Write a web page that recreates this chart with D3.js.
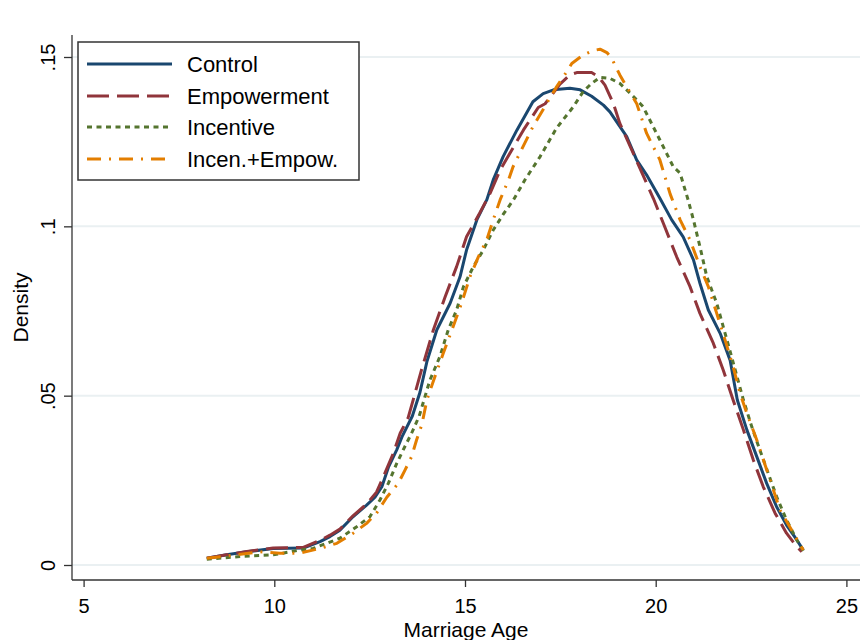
<!DOCTYPE html>
<html>
<head>
<meta charset="utf-8">
<script src="https://cdn.jsdelivr.net/npm/d3@7"></script>
<style>
  html, body { margin: 0; padding: 0; background: #fff; }
  svg { display: block; font-family: "Liberation Sans", Arial, sans-serif; }
</style>
</head>
<body>
<svg id="chart" width="867" height="640"></svg>
<script>
// ---- Data ----
const seriesNames = ["Control", "Empowerment", "Incentive", "Incen.+Empow."];
const xTicks = [5, 10, 15, 20, 25];
const xTickLabels = ["5", "10", "15", "20", "25"];
const yTicks = [0, 0.05, 0.1, 0.15];
const yTickLabels = ["0", ".05", ".1", ".15"];

const control = [
  [8.23,0.0020],[8.75,0.0030],[9.28,0.0039],[9.97,0.0049],[10.76,0.0050],[11.20,0.0069],
  [11.46,0.0084],[11.72,0.0103],[12.07,0.0143],[12.42,0.0177],[12.64,0.0200],[12.82,0.0231],
  [12.99,0.0288],[13.21,0.0340],[13.35,0.0379],[13.62,0.0440],[13.82,0.0510],[14.00,0.0600],
  [14.26,0.0694],[14.61,0.0773],[14.87,0.0851],[15.04,0.0930],[15.31,0.1019],[15.57,0.1078],
  [15.74,0.1137],[16.00,0.1206],[16.36,0.1284],[16.78,0.1368],[17.05,0.1392],[17.32,0.1403],
  [17.75,0.1408],[18.02,0.1403],[18.32,0.1384],[18.63,0.1358],[18.80,0.1338],[19.24,0.1265],
  [19.50,0.1196],[19.76,0.1152],[20.11,0.1083],[20.42,0.1019],[20.72,0.0969],[20.99,0.0901],
  [21.16,0.0832],[21.38,0.0753],[21.69,0.0684],[21.95,0.0605],[22.14,0.0487],[22.39,0.0399],
  [22.65,0.0320],[22.91,0.0241],[23.17,0.0172],[23.43,0.0118],[23.70,0.0074],[23.87,0.0044]
];

const empowerment = [
  [8.23,0.0020],[8.75,0.0030],[9.28,0.0040],[9.97,0.0050],[10.76,0.0052],[11.20,0.0073],
  [11.46,0.0088],[11.72,0.0106],[12.07,0.0146],[12.42,0.0180],[12.68,0.0215],[12.90,0.0271],
  [13.12,0.0330],[13.30,0.0389],[13.51,0.0435],[13.64,0.0487],[13.86,0.0576],[14.17,0.0694],
  [14.48,0.0792],[14.78,0.0881],[15.04,0.0969],[15.39,0.1040],[15.66,0.1098],[15.92,0.1166],
  [16.53,0.1284],[16.92,0.1351],[17.10,0.1362],[17.49,0.1420],[17.75,0.1447],[17.93,0.1454],
  [18.32,0.1454],[18.50,0.1442],[18.67,0.1417],[18.89,0.1363],[19.06,0.1304],[19.41,0.1216],
  [19.94,0.1082],[20.20,0.1009],[20.55,0.0910],[20.90,0.0822],[21.16,0.0743],[21.51,0.0655],
  [21.77,0.0576],[22.03,0.0487],[22.30,0.0399],[22.56,0.0310],[22.82,0.0231],[23.13,0.0153],
  [23.43,0.0094],[23.70,0.0054],[23.83,0.0039]
];

const incentive = [
  [8.23,0.0017],[9.10,0.0025],[9.97,0.0030],[10.67,0.0044],[11.02,0.0049],[11.37,0.0064],
  [11.72,0.0079],[12.16,0.0113],[12.51,0.0143],[12.77,0.0192],[12.99,0.0241],[13.21,0.0300],
  [13.38,0.0340],[13.60,0.0389],[13.80,0.0440],[14.08,0.0546],[14.34,0.0615],[14.56,0.0694],
  [14.78,0.0753],[14.96,0.0822],[15.22,0.0881],[15.48,0.0930],[15.74,0.0989],[16.00,0.1035],
  [16.27,0.1078],[16.57,0.1137],[16.97,0.1206],[17.40,0.1290],[17.84,0.1353],[18.10,0.1398],
  [18.32,0.1422],[18.54,0.1440],[18.80,0.1437],[19.06,0.1422],[19.33,0.1393],[19.59,0.1363],
  [19.67,0.1353],[20.11,0.1255],[20.46,0.1176],[20.64,0.1157],[20.85,0.1078],[20.99,0.1019],
  [21.16,0.0940],[21.34,0.0851],[21.60,0.0773],[21.77,0.0704],[21.99,0.0615],[22.30,0.0487],
  [22.52,0.0408],[22.73,0.0340],[22.95,0.0271],[23.17,0.0202],[23.43,0.0133],[23.70,0.0074],
  [23.91,0.0035]
];

const incenEmpow = [
  [8.23,0.0020],[9.01,0.0030],[9.63,0.0039],[10.15,0.0035],[10.67,0.0035],[11.20,0.0049],
  [11.64,0.0064],[12.07,0.0094],[12.42,0.0123],[12.68,0.0153],[12.95,0.0200],[13.25,0.0241],
  [13.43,0.0281],[13.60,0.0320],[13.73,0.0369],[13.87,0.0415],[14.00,0.0487],[14.21,0.0556],
  [14.43,0.0625],[14.69,0.0704],[14.91,0.0773],[15.13,0.0851],[15.35,0.0910],[15.57,0.0960],
  [15.74,0.1019],[15.92,0.1078],[16.14,0.1137],[16.26,0.1176],[16.78,0.1294],[17.40,0.1412],
  [17.67,0.1457],[17.80,0.1481],[18.10,0.1506],[18.36,0.1519],[18.54,0.1523],[18.72,0.1513],
  [18.85,0.1496],[18.93,0.1476],[19.06,0.1447],[19.24,0.1412],[19.50,0.1363],[19.76,0.1275],
  [20.11,0.1196],[20.38,0.1095],[20.64,0.1019],[20.90,0.0960],[21.16,0.0881],[21.38,0.0822],
  [21.60,0.0743],[21.82,0.0664],[22.03,0.0586],[22.21,0.0507],[22.39,0.0448],[22.65,0.0369],
  [23.00,0.0251],[23.26,0.0162],[23.61,0.0094],[23.87,0.0044]
];

// ---- Styles ----
const seriesData = [control, empowerment, incentive, incenEmpow];
const colors = ["#1a476f", "#90353b", "#55752f", "#e37e00"];
const dashes = [null, "22,8", "5,4.5", "14,8,2,8"];

// ---- Layout ----
const svg = d3.select("#chart");
const axisLeftX = 72, axisBottomY = 580, plotRight = 860, plotTop = 35;

const x = d3.scaleLinear().domain([5, 25]).range([83.6, 846.4]);
const y = d3.scaleLinear().domain([0, 0.15]).range([565, 57]);

// gridlines
svg.append("g").selectAll("line").data(yTicks).join("line")
  .attr("x1", axisLeftX).attr("x2", plotRight)
  .attr("y1", d => y(d)).attr("y2", d => y(d))
  .attr("stroke", "#eaf0f2").attr("stroke-width", 2);

// x axis
const xAxis = d3.axisBottom(x).tickValues(xTicks)
  .tickFormat((d, i) => xTickLabels[i]).tickSize(7).tickSizeOuter(0).tickPadding(12);
const gx = svg.append("g").attr("transform", `translate(0,${axisBottomY})`).call(xAxis);
gx.select(".domain").remove();
gx.selectAll(".tick line").attr("stroke", "#333").attr("stroke-width", 1.3);
gx.selectAll(".tick text").attr("font-size", 20).attr("fill", "#000")
  .attr("font-family", "'Liberation Sans', Arial, sans-serif");
svg.append("line").attr("x1", axisLeftX).attr("x2", plotRight)
  .attr("y1", axisBottomY).attr("y2", axisBottomY)
  .attr("stroke", "#333").attr("stroke-width", 1.3);

// y axis
const yAxis = d3.axisLeft(y).tickValues(yTicks)
  .tickFormat((d, i) => yTickLabels[i]).tickSize(8).tickSizeOuter(0);
const gy = svg.append("g").attr("transform", `translate(${axisLeftX},0)`).call(yAxis);
gy.select(".domain").remove();
gy.selectAll(".tick line").attr("stroke", "#333").attr("stroke-width", 1.3);
gy.selectAll(".tick text")
  .attr("font-size", 20).attr("fill", "#000")
  .attr("font-family", "'Liberation Sans', Arial, sans-serif")
  .attr("x", null).attr("dy", null)
  .attr("text-anchor", "middle")
  .attr("transform", "translate(-17,0) rotate(-90)");
svg.append("line").attr("x1", axisLeftX).attr("x2", axisLeftX)
  .attr("y1", plotTop).attr("y2", axisBottomY)
  .attr("stroke", "#333").attr("stroke-width", 1.3);

// axis titles
svg.append("text").attr("x", (axisLeftX + plotRight) / 2).attr("y", 637)
  .attr("text-anchor", "middle").attr("font-size", 21).text("Marriage Age");
svg.append("text")
  .attr("transform", `translate(28,${(plotTop + axisBottomY) / 2}) rotate(-90)`)
  .attr("text-anchor", "middle").attr("font-size", 21).text("Density");

// curves
const line = d3.line().x(d => x(d[0])).y(d => y(d[1]));
seriesData.forEach((data, i) => {
  svg.append("path").datum(data)
    .attr("d", line)
    .attr("fill", "none")
    .attr("stroke", colors[i])
    .attr("stroke-width", 3)
    .attr("stroke-linejoin", "round")
    .attr("stroke-dasharray", dashes[i]);
});

// legend
const lg = svg.append("g");
lg.append("rect").attr("x", 78).attr("y", 42).attr("width", 281).attr("height", 138)
  .attr("fill", "#fff").attr("stroke", "#333").attr("stroke-width", 1.5);
const rowY = [64, 96, 127, 159];
seriesNames.forEach((name, i) => {
  lg.append("line").attr("x1", 87).attr("x2", 172)
    .attr("y1", rowY[i]).attr("y2", rowY[i])
    .attr("stroke", colors[i]).attr("stroke-width", 3)
    .attr("stroke-dasharray", dashes[i]);
  lg.append("text").attr("x", 187).attr("y", rowY[i] + 8)
    .attr("font-size", 22).attr("fill", "#000").text(name);
});
</script>
</body>
</html>
